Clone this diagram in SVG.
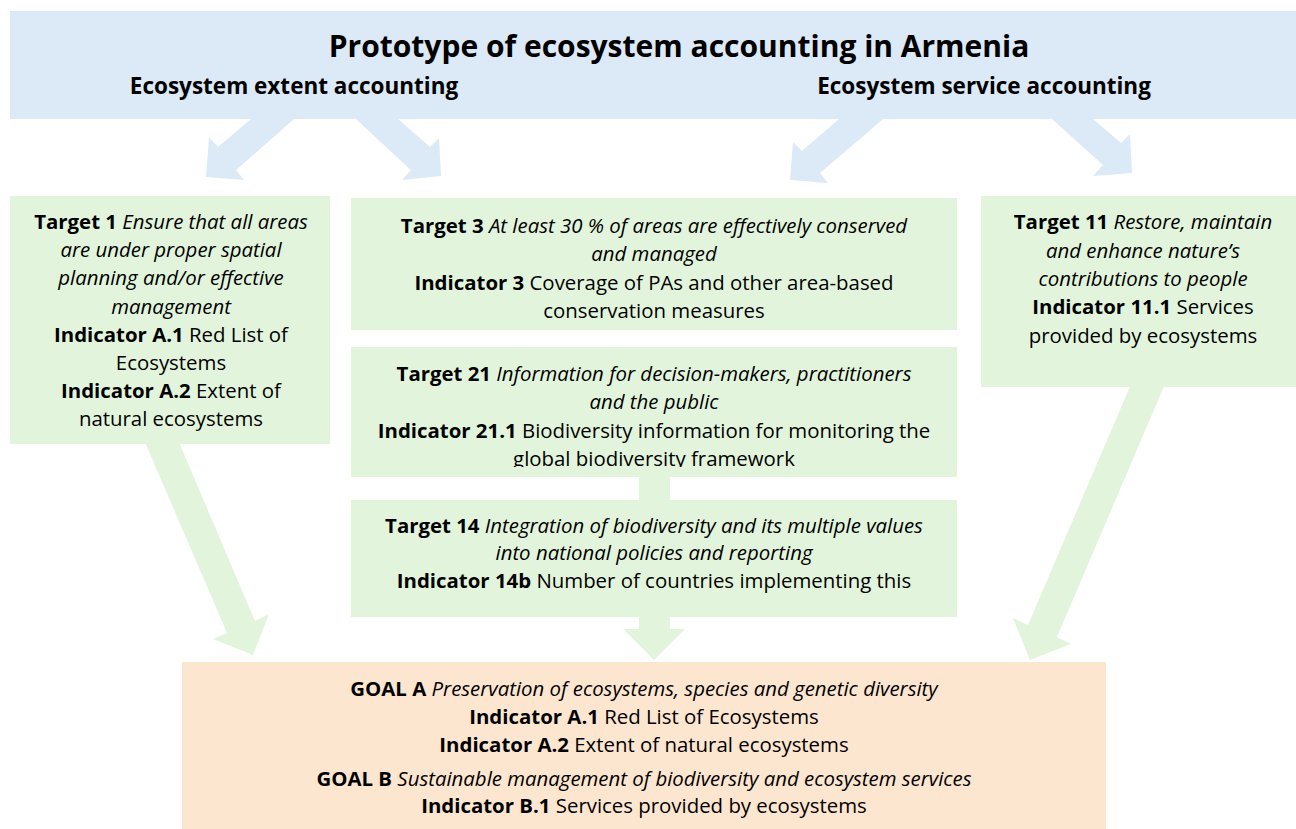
<svg xmlns="http://www.w3.org/2000/svg" width="1296" height="829" viewBox="0 0 1296 829">
<style>
text{font-family:"Open Sans","Noto Sans","DejaVu Sans",sans-serif;fill:#000;text-anchor:middle}
.t{font-size:20.4px}
.b{font-weight:bold}
.i{font-style:italic}
.blue{fill:#dce9f6}
.green{fill:#e2f5dc}
.peach{fill:#fde6d0}
</style>
<defs>
<clipPath id="clip21"><rect x="351" y="347" width="606" height="120"/></clipPath>
</defs>
<rect x="0" y="0" width="1296" height="829" fill="#fff"/>
<g id="connectors">
<polygon class="blue" points="251,119 218,147 209,137 206,177 244,180 236,170 294,119"/>
<polygon class="blue" points="356,119 398,119 430,147 439,138 441,176 402,180 411,170"/>
<polygon class="blue" points="839,119 802,151 793,142 790,180 828,183 820,173 883,119"/>
<polygon class="blue" points="1052,119 1093,119 1121,143 1130,134 1132,173 1093,176 1103,165"/>
<polygon class="green" points="144,440 178,440 255,621 269,614 253,655 213,639 227,633"/>
<polygon class="green" points="1131,384 1165,384 1057,637 1071,644 1030,660 1013,618 1028,625"/>
<rect class="green" x="639" y="474" width="31" height="28"/>
<polygon class="green" points="639,614 670,614 670,629 685,629 654,660 623,629 639,629"/>
</g>
<g id="header">
<rect class="blue" x="10" y="11" width="1286" height="108"/>
<text x="679" y="57" class="b" style="font-size:30px">Prototype of ecosystem accounting in Armenia</text>
<text x="294" y="94" class="b" style="font-size:22.5px">Ecosystem extent accounting</text>
<text x="984" y="94" class="b" style="font-size:22.5px">Ecosystem service accounting</text>
</g>
<g id="target1">
<rect class="green" x="10" y="196" width="320" height="248"/>
<text class="t" x="171" y="229"><tspan class="b">Target 1</tspan> <tspan class="i">Ensure that all areas</tspan></text>
<text class="t i" x="171" y="257">are under proper spatial</text>
<text class="t i" x="171" y="285">planning and/or effective</text>
<text class="t i" x="171" y="314">management</text>
<text class="t" x="171" y="342"><tspan class="b">Indicator A.1</tspan> Red List of</text>
<text class="t" x="171" y="370">Ecosystems</text>
<text class="t" x="171" y="398"><tspan class="b">Indicator A.2</tspan> Extent of</text>
<text class="t" x="171" y="426">natural ecosystems</text>
</g>
<g id="target3">
<rect class="green" x="351" y="198" width="606" height="132"/>
<text class="t" x="654" y="233"><tspan class="b">Target 3</tspan> <tspan class="i">At least 30 % of areas are effectively conserved</tspan></text>
<text class="t i" x="654" y="261">and managed</text>
<text class="t" x="654" y="290"><tspan class="b">Indicator 3</tspan> Coverage of PAs and other area-based</text>
<text class="t" x="654" y="318">conservation measures</text>
</g>
<g id="target21">
<rect class="green" x="351" y="347" width="606" height="130"/>
<text class="t" x="654" y="381"><tspan class="b">Target 21</tspan> <tspan class="i">Information for decision-makers, practitioners</tspan></text>
<text class="t i" x="654" y="409">and the public</text>
<text class="t" x="654" y="438"><tspan class="b">Indicator 21.1</tspan> Biodiversity information for monitoring the</text>
<text class="t" x="654" y="466" clip-path="url(#clip21)">global biodiversity framework</text>
</g>
<g id="target14">
<rect class="green" x="351" y="500" width="606" height="117"/>
<text class="t" x="654" y="533"><tspan class="b">Target 14</tspan> <tspan class="i">Integration of biodiversity and its multiple values</tspan></text>
<text class="t i" x="654" y="560">into national policies and reporting</text>
<text class="t" x="654" y="588"><tspan class="b">Indicator 14b</tspan> Number of countries implementing this</text>
</g>
<g id="target11">
<rect class="green" x="981" y="196" width="315" height="191"/>
<text class="t" x="1143" y="229"><tspan class="b">Target 11</tspan> <tspan class="i">Restore, maintain</tspan></text>
<text class="t i" x="1143" y="258">and enhance nature’s</text>
<text class="t i" x="1143" y="286">contributions to people</text>
<text class="t" x="1143" y="314"><tspan class="b">Indicator 11.1</tspan> Services</text>
<text class="t" x="1143" y="343">provided by ecosystems</text>
</g>
<g id="goals">
<rect class="peach" x="182" y="662" width="924" height="167"/>
<text class="t" x="644" y="696"><tspan class="b">GOAL A</tspan> <tspan class="i">Preservation of ecosystems, species and genetic diversity</tspan></text>
<text class="t" x="644" y="724"><tspan class="b">Indicator A.1</tspan> Red List of Ecosystems</text>
<text class="t" x="644" y="752"><tspan class="b">Indicator A.2</tspan> Extent of natural ecosystems</text>
<text class="t" x="644" y="786"><tspan class="b">GOAL B</tspan> <tspan class="i">Sustainable management of biodiversity and ecosystem services</tspan></text>
<text class="t" x="644" y="813"><tspan class="b">Indicator B.1</tspan> Services provided by ecosystems</text>
</g>
</svg>
